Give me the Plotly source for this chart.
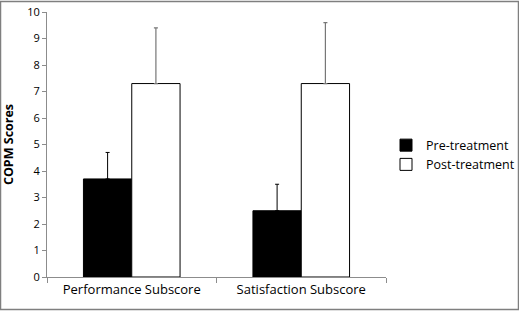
import plotly.graph_objects as go

categories = ["Performance Subscore", "Satisfaction Subscore"]
pre_values = [3.7, 2.5]
pre_err = [1.0, 1.0]
post_values = [7.3, 7.3]
post_err = [2.1, 2.3]
y_ticks = list(range(0, 11))

FONT = "Open Sans"

fig = go.Figure()
fig.add_trace(go.Bar(
    x=categories, y=pre_values, name="Pre-treatment", legendgroup="a",
    marker=dict(color="black", line=dict(color="black", width=1)),
    error_y=dict(type="data", array=pre_err, arrayminus=[0, 0], symmetric=False,
                 color="black", thickness=1, width=2),
))
fig.add_trace(go.Bar(
    x=categories, y=post_values, name="Post-treatment", legendgroup="b",
    marker=dict(color="white", line=dict(color="black", width=1)),
    error_y=dict(type="data", array=post_err, arrayminus=[0, 0], symmetric=False,
                 color="#777777", thickness=1.2, width=2),
))

L, R, T, B = 47, 133, 12, 34
W, H = 519, 311
pw, ph = W - L - R, H - T - B

fig.update_layout(
    width=W, height=H,
    margin=dict(l=L, r=R, t=T, b=B, autoexpand=False),
    paper_bgcolor="white", plot_bgcolor="white",
    barmode="group", bargap=0.43, bargroupgap=0,
    font=dict(family=FONT, color="black", size=11),
    showlegend=True,
    legend=dict(x=(386 - L) / pw, y=(H - B - 155) / ph, xanchor="left", yanchor="middle",
                font=dict(family=FONT, size=12.5), itemwidth=30, traceorder="normal",
                tracegroupgap=7, bgcolor="rgba(0,0,0,0)"),
    xaxis=dict(type="category", showline=True, linecolor="#8c8c8c", linewidth=1,
               ticks="outside", tickson="boundaries", ticklen=5, tickcolor="#8c8c8c",
               tickfont=dict(family=FONT, size=13), showgrid=False, automargin=False),
    yaxis=dict(range=[0, 10], tickvals=y_ticks, showline=True, linecolor="#8c8c8c",
               linewidth=1, ticks="outside", ticklen=4, tickcolor="#8c8c8c",
               showgrid=False, zeroline=False, tickfont=dict(family=FONT, size=11),
               automargin=False,
               title=dict(text="<b>COPM Scores</b>", font=dict(family=FONT, size=12.5),
                          standoff=10)),
)

fig.add_shape(type="rect", xref="paper", yref="paper",
              x0=(0.5 - L) / pw, x1=(W - 0.5 - L) / pw,
              y0=(H - B - (H - 1.5)) / ph, y1=(H - B - 1.5) / ph,
              line=dict(color="#7f7f7f", width=1.5), layer="below")

fig.write_html("out.html")
